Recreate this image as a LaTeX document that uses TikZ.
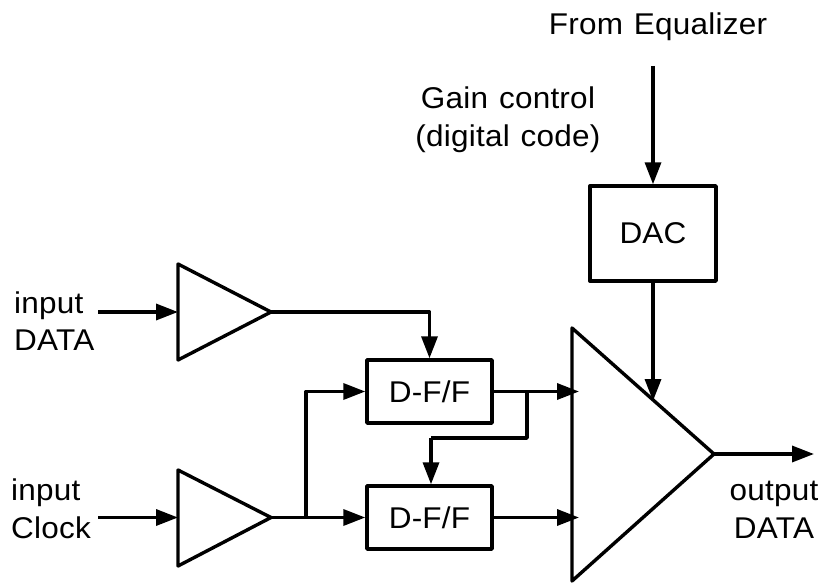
\documentclass[tikz,border=0pt]{standalone}
\usepackage{fontspec}
\setmainfont[FakeStretch=1.05,LetterSpace=0.8,WordSpace=1.2]{Liberation Sans}
\usetikzlibrary{arrows.meta}
\tikzset{
 wire/.style={line width=3.4pt,-{Triangle[length=22pt,width=16pt]}},
 plain/.style={line width=3.4pt},
 boxn/.style={draw,line width=3.4pt,inner sep=0pt,font=\fontsize{30}{32}\selectfont},
 lab/.style={font=\fontsize{30}{37.5}\selectfont,inner sep=0pt},
}
\begin{document}
\begin{tikzpicture}[x=1pt,y=-1pt,line join=round]
\useasboundingbox (0,0) rectangle (824,583);
\node[lab,align=center] (eq) at (658,27) {From Equalizer};
\node[lab,align=center] (gain) at (508,119.5) {Gain control\\(digital code)};
\node[boxn,minimum width=126,minimum height=95] (dac) at (653,233.5) {DAC};
\node[boxn,minimum width=125,minimum height=63] (ff1) at (429.5,391.5) {D-F/F};
\node[boxn,minimum width=125,minimum height=63] (ff2) at (429.5,517.5) {D-F/F};
\node[lab,align=left,anchor=west] (idata) at (14,321) {input\\DATA};
\node[lab,align=left,anchor=west] (iclk) at (11,509) {input\\Clock};
\node[lab,align=center] (odata) at (774,510) {output\\DATA};
\draw[plain] (178,264) -- (271,312) -- (178,360) -- cycle;
\draw[plain] (178,470) -- (271,517.5) -- (178,566) -- cycle;
\draw[plain] (572,328) -- (714,454) -- (572,581) -- cycle;
\coordinate (a1in) at (178,312);
\coordinate (a2in) at (178,517.5);
\coordinate (a1out) at (271,312);
\coordinate (a2out) at (271,517.5);
\coordinate (aout) at (714,454);
\coordinate (ostart) at (98,312);
\coordinate (cstart) at (98,517.5);
\coordinate (oend) at (814,454);
\coordinate (eqs) at (653,66);
\coordinate (m1) at (579,391.5);
\coordinate (m2) at (579,517.5);
\coordinate (dacin) at (653,401);
\coordinate (fb) at (431,438);
\coordinate (jc) at (306,517.5);
\coordinate (jf) at (527,391.5);
\draw[wire] (ostart) -- (a1in);
\draw[wire] (cstart) -- (a2in);
\draw[wire] (a1out) -| (ff1.north);
\draw[wire] (a2out) -- (ff2.west);
\draw[wire] (jc) |- (ff1.west);
\draw[wire] (ff1.east) -- (m1);
\draw[wire] (ff2.east) -- (m2);
\draw[plain] (jf) |- (fb);
\draw[wire] (fb) -- (fb |- ff2.north);
\draw[wire] (eqs) -- (dac.north);
\draw[wire] (dac.south) -- (dacin);
\draw[wire] (aout) -- (oend);
\end{tikzpicture}
\end{document}
